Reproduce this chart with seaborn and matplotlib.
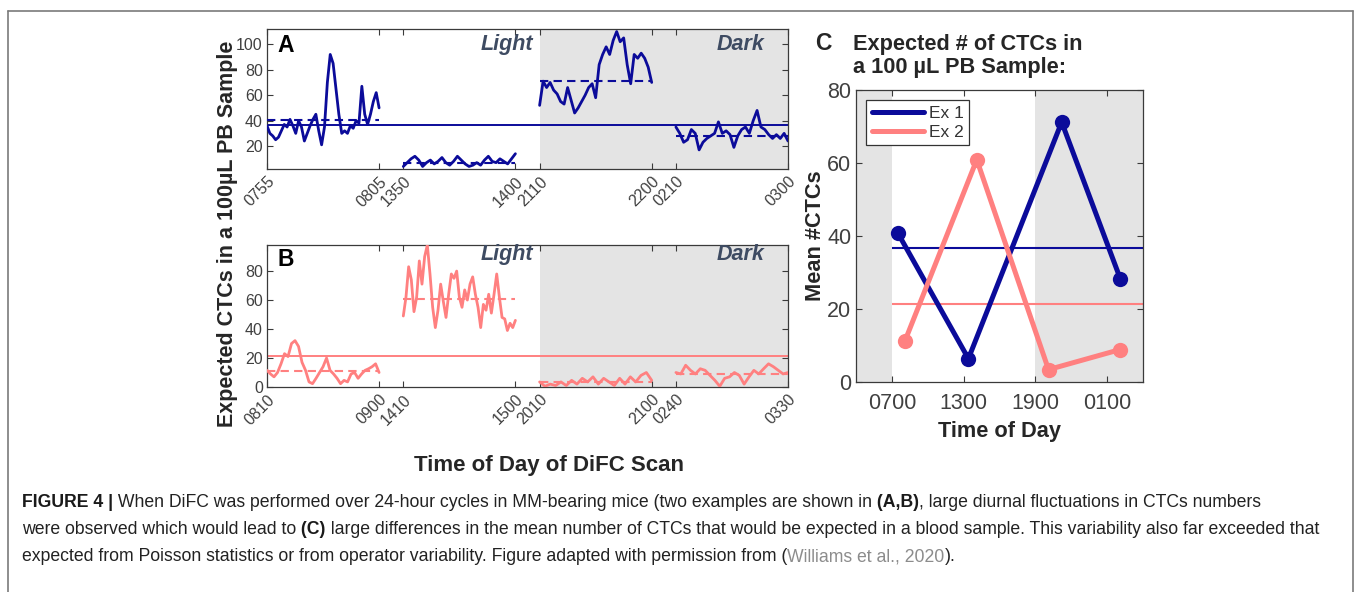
import numpy as np
import pandas as pd
import matplotlib

matplotlib.use("Agg")
import matplotlib.pyplot as plt
from matplotlib.lines import Line2D
import seaborn as sns

# ---------------- data ----------------
ex1_ticklabels = ["0755", "0805", "1350", "1400", "2110", "2200", "0210", "0300"]
ex2_ticklabels = ["0810", "0900", "1410", "1500", "2010", "2100", "0240", "0330"]

# expected CTCs per scan, read along each scan window (evenly spaced samples)
ex1_scan1 = [36, 30, 28, 25, 27, 32, 37, 35, 41, 36, 30, 40, 35, 24, 30, 36, 41, 45, 32, 21,
             35, 70, 92, 85, 65, 45, 30, 32, 30, 36, 34, 40, 38, 67, 45, 37, 45, 55, 62, 50]
ex1_scan2 = [4, 7, 10, 12, 9, 4, 7, 9, 6, 8, 11, 7, 5, 8, 12, 9, 6, 4, 5, 7,
             5, 9, 12, 8, 7, 10, 8, 6, 10, 14]
ex1_scan3 = [52, 71, 66, 70, 64, 61, 55, 53, 66, 56, 46, 50, 55, 60, 66, 69, 58, 84, 92, 98,
             92, 103, 110, 102, 105, 84, 69, 92, 89, 93, 89, 82, 70]
ex1_scan4 = [35, 30, 23, 25, 33, 30, 17, 23, 26, 28, 30, 39, 30, 32, 29, 19, 28, 33, 35, 30,
             40, 48, 35, 33, 29, 26, 29, 26, 30, 24]

ex2_scan1 = [11.5, 9, 7, 10, 16, 23, 21, 30, 32, 28, 17, 11.5, 3.5, 2.3, 6, 10, 14, 20, 11.5, 9,
             6, 2.3, 4.6, 3.5, 9, 10, 6, 9, 11.5, 12.6, 14, 16, 10]
ex2_scan2 = [49, 62, 83, 74, 52, 62, 87, 71, 90, 98, 78, 55, 41, 53, 71, 59, 48, 64, 78, 75,
             80, 62, 55, 67, 60, 71, 76, 64, 55, 41, 57, 53, 64, 51, 64, 78, 62, 48, 47, 39,
             44, 41, 46]
ex2_scan3 = [3.5, 0.5, 2, 1, 3.5, 1, 4.6, 2, 6, 3.5, 7, 2, 6, 3.5, 1, 6, 2, 7, 3.5, 8, 10, 4.6]
ex2_scan4 = [10, 9, 15, 11.5, 9, 12.6, 11.5, 8, 4.6, 0.5, 6, 7, 10, 8, 2, 7, 11.5, 9, 12.6, 16,
             14, 11.5, 9, 10]

# mean per scan (dashed lines in A/B, points in C) and overall mean
ex1_means = [40.8, 6.4, 71.2, 28.3]
ex2_means = [11.3, 60.9, 3.4, 8.9]
ex1_overall = 36.7
ex2_overall = 21.3

# panel C: hour of day (0100 shown as 25)
ex1_hours = [7.5, 13.4, 21.2, 26.1]
ex2_hours = [8.1, 14.1, 20.1, 26.1]
c_ticks = [7, 13, 19, 25]
c_ticklabels = ["0700", "1300", "1900", "0100"]

caption_lines = [
    [("FIGURE 4 |", "bold", "#1a1a1a"),
     (" When DiFC was performed over 24-hour cycles in MM-bearing mice (two examples are shown in", "normal", "#222222"),
     (" (A,B)", "bold", "#1a1a1a"),
     (", large diurnal fluctuations in CTCs numbers", "normal", "#222222")],
    [("were observed which would lead to", "normal", "#222222"),
     (" (C)", "bold", "#1a1a1a"),
     (" large differences in the mean number of CTCs that would be expected in a blood sample. This variability also far exceeded that", "normal", "#222222")],
    [("expected from Poisson statistics or from operator variability. Figure adapted with permission from (", "normal", "#222222"),
     ("Williams et al., 2020", "normal", "#8c8c8c"),
     (").", "normal", "#222222")],
]

# ---------------- style ----------------
BLUE = "#0b0b9a"
PINK = "#ff8080"
SHADE = "#e4e4e4"
LABEL_COL = "#3e4b62"
TICK_COL = "#404040"
W, H = 1356, 592
SEG_GAP = 0.216

sns.set_style("ticks")
plt.rcParams["font.family"] = ["Liberation Sans", "DejaVu Sans"]


def fx(x):
    return x / W


def fy(y):
    return 1 - y / H


def px_axes(x0, y0, x1, y1):
    return fig.add_axes([fx(x0), fy(y1), (x1 - x0) / W, (y1 - y0) / H])


def style_axes(ax, size):
    for s in ax.spines.values():
        s.set_color("#3a3a3a")
        s.set_linewidth(0.9)
    ax.tick_params(direction="in", top=True, right=True, length=4, width=0.8,
                   color="#3a3a3a", labelcolor=TICK_COL, labelsize=size)


def scan_panel(ax, scans, means, overall, color, ticklabels, ylim, yticks, letter, ly):
    x_end = len(scans) + (len(scans) - 1) * SEG_GAP
    ax.axvspan(2 * (1 + SEG_GAP), x_end, color=SHADE, lw=0, zorder=0)
    edges = []
    for k, vals in enumerate(scans):
        x0 = k * (1 + SEG_GAP)
        xs = np.linspace(x0, x0 + 1, len(vals))
        sns.lineplot(x=xs, y=vals, color=color, lw=2.0, estimator=None, ax=ax, zorder=3)
        ax.hlines(means[k], x0, x0 + 1, colors=color, linestyles=(0, (4, 2.5)), lw=1.5, zorder=3)
        edges += [x0, x0 + 1]
    ax.axhline(overall, color=color, lw=1.4, zorder=2)
    ax.set_xlim(0, x_end)
    ax.set_ylim(*ylim)
    ax.set_yticks(yticks)
    ax.set_xticks(edges)
    ax.set_xticklabels(ticklabels, rotation=45, ha="right", rotation_mode="anchor")
    ax.set_xlabel("")
    ax.set_ylabel("")
    style_axes(ax, 11.5)
    ax.tick_params(axis="y", pad=3)
    ax.text(0.02, ly[0], letter, transform=ax.transAxes, fontsize=16.5, fontweight="bold",
            va="center", ha="left", color="black")
    ax.text(0.51, ly[1], "Light", transform=ax.transAxes, fontsize=15.5, fontweight="bold",
            style="italic", color=LABEL_COL, va="center", ha="right")
    ax.text(0.955, ly[1], "Dark", transform=ax.transAxes, fontsize=15.5, fontweight="bold",
            style="italic", color=LABEL_COL, va="center", ha="right")


fig = plt.figure(figsize=(W / 100, H / 100), dpi=100)

# outer frame of the figure box
frame = dict(color="#7a7a7a", lw=1.2, transform=fig.transFigure)
fig.add_artist(Line2D([fx(8), fx(8)], [0, fy(11)], **frame))
fig.add_artist(Line2D([fx(8), fx(1353)], [fy(11), fy(11)], **frame))
fig.add_artist(Line2D([fx(1353), fx(1353)], [0, fy(11)], **frame))

# ---------------- panel A ----------------
axA = px_axes(267, 29, 788, 169)
scan_panel(axA, [ex1_scan1, ex1_scan2, ex1_scan3, ex1_scan4], ex1_means, ex1_overall, BLUE,
           ex1_ticklabels, (2, 112), [20, 40, 60, 80, 100], "A", (0.885, 0.888))

# ---------------- panel B ----------------
axB = px_axes(267, 245, 788, 387)
scan_panel(axB, [ex2_scan1, ex2_scan2, ex2_scan3, ex2_scan4], ex2_means, ex2_overall, PINK,
           ex2_ticklabels, (0, 98), [0, 20, 40, 60, 80], "B", (0.895, 0.932))

fig.text(fx(227), fy(234), "Expected CTCs in a 100\u00b5L PB Sample", rotation=90,
         ha="center", va="center", fontsize=15.5, fontweight="bold")
fig.text(fx(549), fy(465), "Time of Day of DiFC Scan", ha="center", va="center",
         fontsize=16, fontweight="bold")

# ---------------- panel C ----------------
axC = px_axes(856, 90, 1143, 382)
axC.axvspan(4, 7, color=SHADE, lw=0, zorder=0)
axC.axvspan(19, 28, color=SHADE, lw=0, zorder=0)
df = pd.DataFrame({
    "hour": ex1_hours + ex2_hours,
    "mean": ex1_means + ex2_means,
    "ex": ["Ex 1"] * len(ex1_hours) + ["Ex 2"] * len(ex2_hours),
})
axC.hlines(ex1_overall, 7, 28, colors=BLUE, lw=1.5, zorder=2)
axC.hlines(ex2_overall, 7, 28, colors=PINK, lw=1.5, zorder=2)
sns.lineplot(data=df, x="hour", y="mean", hue="ex", palette=[BLUE, PINK], lw=3.6,
             marker="o", markersize=11, markeredgewidth=0, estimator=None, sort=False,
             legend=False, ax=axC, zorder=3)
axC.set_xlim(4, 28)
axC.set_ylim(0, 80)
axC.set_xticks(c_ticks)
axC.set_xticklabels(c_ticklabels)
axC.set_yticks([0, 20, 40, 60, 80])
style_axes(axC, 15.5)
axC.tick_params(axis="x", pad=8)
axC.set_xlabel("Time of Day", fontsize=15.7, fontweight="bold", labelpad=5)
axC.set_ylabel("Mean #CTCs", fontsize=15.7, fontweight="bold", labelpad=1)
handles = [Line2D([0], [0], color=BLUE, lw=3.6), Line2D([0], [0], color=PINK, lw=3.6)]
leg = axC.legend(handles, ["Ex 1", "Ex 2"], loc="upper left", fontsize=12.5, frameon=True,
                 fancybox=False, framealpha=1, edgecolor="#333333", handlelength=3.0,
                 borderaxespad=0.6, borderpad=0.3, labelspacing=0.25, handletextpad=0.3)
leg.get_frame().set_linewidth(0.9)
for t in leg.get_texts():
    t.set_color("#333333")

fig.text(fx(815), fy(44), "C", fontsize=16.5, fontweight="bold", ha="left", va="center")
fig.text(fx(853), fy(56), "Expected # of CTCs in\na 100 \u00b5L PB Sample:", fontsize=15.7,
         fontweight="bold", ha="left", va="center", linespacing=1.1)

# ---------------- caption ----------------
renderer = fig.canvas.get_renderer()
for i, runs in enumerate(caption_lines):
    x = 22
    y = 507 + i * 27
    for s, weight, color in runs:
        t = fig.text(fx(x), fy(y), s, fontsize=12.7, fontweight=weight, color=color,
                     ha="left", va="baseline")
        x += t.get_window_extent(renderer=renderer).width

fig.savefig("out.png", dpi=100)
